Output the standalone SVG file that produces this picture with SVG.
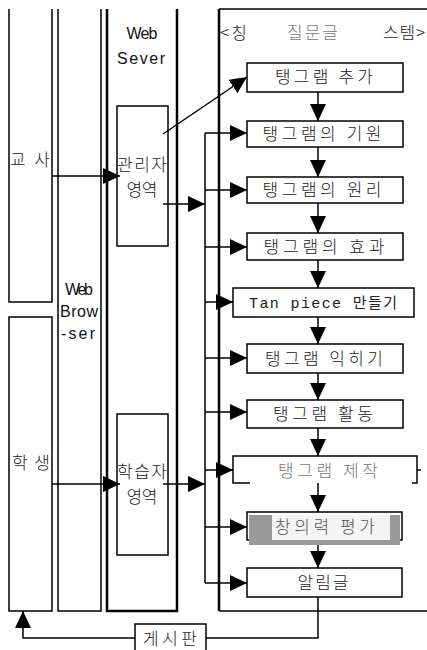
<svg xmlns="http://www.w3.org/2000/svg" width="427" height="650" viewBox="0 0 427 650">
<style>
.ln{fill:none;stroke:#000;stroke-width:1.5}
.thk{fill:none;stroke:#000;stroke-width:2.5}
.box{fill:#fff;stroke:#000;stroke-width:1.5}
.k{font-family:"Noto Sans CJK KR","Noto Sans",sans-serif;font-size:17px;font-weight:300;fill:#222}
.l{font-family:"Liberation Sans",Arial,sans-serif;font-size:16px;fill:#111}
.m{font-family:"Liberation Mono","Noto Sans CJK KR",monospace;font-size:15px;fill:#222}
.blur{fill:#777}
</style>
<defs>
<marker id="ah" markerUnits="userSpaceOnUse" markerWidth="17" markerHeight="16" refX="17" refY="8" orient="auto">
<path d="M0,0 L17,8 L0,16 Z" fill="#000"/>
</marker>
</defs>
<rect width="427" height="650" fill="#fff"/>

<g id="teacher">
<path class="ln" d="M9,9 V302 H52 V9"/>
<text class="k" x="30" y="166" text-anchor="middle" textLength="40" lengthAdjust="spacing">교사</text>
</g>
<g id="student">
<path class="ln" d="M9,317 H52 V611 H9 Z"/>
<text class="k" x="31" y="469" text-anchor="middle" textLength="38" lengthAdjust="spacing">학생</text>
</g>
<g id="browser">
<path class="ln" d="M58,9 V611 H101 V9"/>
<text class="l" x="79" y="295" text-anchor="middle" textLength="28" lengthAdjust="spacing">Web</text>
<text class="l" x="79" y="317" text-anchor="middle" textLength="38" lengthAdjust="spacing">Brow</text>
<text class="l" x="78" y="339" text-anchor="middle" textLength="34" lengthAdjust="spacing">-ser</text>
</g>
<g id="server">
<path class="thk" d="M107,9 V611 H177 V9"/>
<text class="l" x="142" y="39" text-anchor="middle" textLength="31" lengthAdjust="spacing">Web</text>
<text class="l" x="141" y="64" text-anchor="middle" textLength="48" lengthAdjust="spacing">Sever</text>
</g>
<g id="admin">
<rect class="box" x="117" y="106" width="51" height="140"/>
<text class="k" x="142" y="171" text-anchor="middle" textLength="50" lengthAdjust="spacing">관리자</text>
<text class="k" x="142" y="196" text-anchor="middle" textLength="31" lengthAdjust="spacing">영역</text>
</g>
<g id="learner">
<rect class="box" x="117" y="414" width="51" height="141"/>
<text class="k" x="142" y="478" text-anchor="middle" textLength="50" lengthAdjust="spacing">학습자</text>
<text class="k" x="142" y="503" text-anchor="middle" textLength="31" lengthAdjust="spacing">영역</text>
</g>
<g id="system">
<path class="ln" d="M219,9 H427" stroke="#666" stroke-width="1"/>
<path class="ln" d="M219,611 H427"/>
<path class="thk" d="M219,9 V611"/>
<text class="k" x="220" y="39" textLength="27" lengthAdjust="spacing">&lt;칭</text>
<text class="k blur" x="287" y="39" textLength="51" lengthAdjust="spacing">질문글</text>
<text class="k" x="383" y="39" textLength="42" lengthAdjust="spacing">스템&gt;</text>
</g>

<g id="n1"><rect class="box" x="247" y="63" width="156" height="29"/>
<text class="k" x="324" y="83" text-anchor="middle" textLength="98" lengthAdjust="spacing">탱그램 추가</text></g>
<g id="n2"><rect class="box" x="247" y="121" width="156" height="26"/>
<text class="k" x="322" y="140" text-anchor="middle" textLength="119" lengthAdjust="spacing">탱그램의 기원</text></g>
<g id="n3"><rect class="box" x="247" y="177" width="156" height="26"/>
<text class="k" x="322" y="196" text-anchor="middle" textLength="119" lengthAdjust="spacing">탱그램의 원리</text></g>
<g id="n4"><rect class="box" x="247" y="233" width="156" height="27"/>
<text class="k" x="324" y="253" text-anchor="middle" textLength="121" lengthAdjust="spacing">탱그램의 효과</text></g>
<g id="n5"><rect class="box" x="233" y="288" width="181" height="29"/>
<text class="m" x="323" y="308" text-anchor="middle" textLength="148" lengthAdjust="spacing">Tan piece 만들기</text></g>
<g id="n6"><rect class="box" x="247" y="344" width="156" height="29"/>
<text class="k" x="324" y="365" text-anchor="middle" textLength="118" lengthAdjust="spacing">탱그램 익히기</text></g>
<g id="n7"><rect class="box" x="247" y="400" width="156" height="28"/>
<text class="k" x="323" y="420" text-anchor="middle" textLength="100" lengthAdjust="spacing">탱그램 활동</text></g>
<g id="n8">
<path class="ln" d="M250,483 H233 V456 H417 V483 H412 M417,470 H421"/>
<text class="k blur" x="328" y="477" text-anchor="middle" textLength="100" lengthAdjust="spacing">탱그램 제작</text></g>
<g id="n9">
<rect x="247" y="512" width="155" height="28" fill="#fff" stroke="#000" stroke-width="1.5"/>
<rect x="249" y="515" width="151" height="30" fill="#999"/>
<rect x="272" y="515" width="118" height="25" fill="#f4f4f4"/>
<text class="k" x="325" y="533" text-anchor="middle" textLength="100" lengthAdjust="spacing" style="fill:#555">창의력 평가</text></g>
<g id="n10"><rect class="box" x="247" y="568" width="155" height="29"/>
<text class="k" x="323" y="589" text-anchor="middle" textLength="51" lengthAdjust="spacing">알림글</text></g>
<g id="board"><rect class="box" x="135" y="624" width="71" height="36"/>
<text class="k" x="170" y="645" text-anchor="middle" textLength="54" lengthAdjust="spacing">게시판</text></g>

<g id="connectors">
<path class="ln" d="M52,176 H120" marker-end="url(#ah)"/>
<path class="ln" d="M52,484 H120" marker-end="url(#ah)"/>
<path class="ln" d="M163,134 L247,77" marker-end="url(#ah)"/>
<path class="ln" d="M163,204 H205" marker-end="url(#ah)"/>
<path class="ln" d="M163,484 H205" marker-end="url(#ah)"/>
<path class="ln" d="M205,133 V583"/>
<path class="ln" d="M205,133 H247" marker-end="url(#ah)"/>
<path class="ln" d="M205,190 H247" marker-end="url(#ah)"/>
<path class="ln" d="M205,247 H247" marker-end="url(#ah)"/>
<path class="ln" d="M205,302 H233" marker-end="url(#ah)"/>
<path class="ln" d="M205,358 H247" marker-end="url(#ah)"/>
<path class="ln" d="M205,412 H247" marker-end="url(#ah)"/>
<path class="ln" d="M205,470 H233" marker-end="url(#ah)"/>
<path class="ln" d="M205,527 H247" marker-end="url(#ah)"/>
<path class="ln" d="M205,583 H247" marker-end="url(#ah)"/>
<path class="ln" d="M318,92 V121" marker-end="url(#ah)"/>
<path class="ln" d="M318,147 V177" marker-end="url(#ah)"/>
<path class="ln" d="M318,203 V233" marker-end="url(#ah)"/>
<path class="ln" d="M318,260 V288" marker-end="url(#ah)"/>
<path class="ln" d="M318,317 V344" marker-end="url(#ah)"/>
<path class="ln" d="M318,373 V400" marker-end="url(#ah)"/>
<path class="ln" d="M318,428 V456" marker-end="url(#ah)"/>
<path class="ln" d="M318,483 V512" marker-end="url(#ah)"/>
<path class="ln" d="M318,545 V568" marker-end="url(#ah)"/>
<path class="ln" d="M318,597 V638 H206"/>
<path class="ln" d="M135,638 H23 V611" marker-end="url(#ah)"/>
</g>
</svg>
